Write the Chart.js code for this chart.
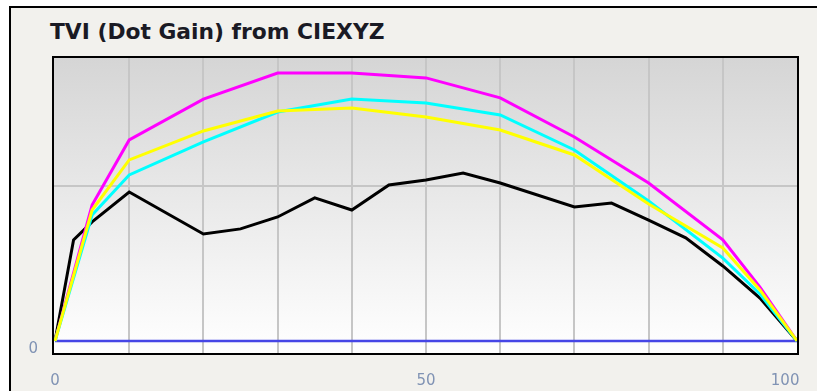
<!DOCTYPE html>
<html lang="en">
<head>
    <meta charset="UTF-8">
    <title>TVI (Dot Gain) from CIEXYZ</title>
    <script src="https://cdn.jsdelivr.net/npm/chart.js"></script>
    <style>
        html, body { margin: 0; padding: 0; background: #ffffff; }
        .frame {
            position: absolute;
            left: 9px; top: 6px;
            width: 808px; height: 385px;
            border-left: 2px solid #000;
            border-top: 2px solid #000;
            background: #f2f1ed;
        }
        .title {
            position: absolute;
            left: 50px; top: 21px;
            font: bold 21.8px/21.5px "DejaVu Sans", sans-serif;
            color: #1a1a24;
            white-space: nowrap;
        }
        #wrap { position: absolute; left: 0; top: 0; width: 817px; height: 391px; }
    </style>
</head>
<body>
    <div class="frame"></div>
    <div class="title">TVI (Dot Gain) from CIEXYZ</div>
    <div id="wrap"><canvas id="tviChart"></canvas></div>
    <script>
    // tone value (%) and dot gain (%)
    const cmyX = [0, 5, 10, 20, 30, 40, 50, 60, 70, 80, 90, 95, 100];
    const magentaTVI = [0, 8.77, 12.97, 15.6, 17.29, 17.29, 16.97, 15.68, 13.16, 10.19, 6.52, 3.48, 0];
    const yellowTVI  = [0, 8.45, 11.68, 13.55, 14.84, 15.03, 14.45, 13.61, 12.0, 8.84, 6.0, 3.29, 0];
    const cyanTVI    = [0, 8.13, 10.71, 12.84, 14.77, 15.61, 15.35, 14.58, 12.32, 9.03, 5.35, 3.03, 0];

    const blackX = [0, 2.5, 5, 10, 20, 25, 30, 35, 40, 45, 50, 55, 60, 70, 75, 80, 85, 90, 95, 100];
    const blackTVI = [0, 6.52, 7.68, 9.61, 6.9, 7.23, 8.0, 9.23, 8.45, 10.06, 10.39, 10.84, 10.19, 8.65, 8.9, 7.8, 6.65, 4.84, 2.77, 0];

    const blueX = [0, 100];
    const blueTVI = [0, 0];

    const xTicks = [0, 10, 20, 30, 40, 50, 60, 70, 80, 90, 100];
    const xLabels = { 0: '0', 50: '50', 100: '100     ' };
    const yTicks = [0, 10];

    function pts(xs, ys) {
        return xs.map((x, i) => ({ x: x, y: ys[i] }));
    }

    const plotFrame = {
        id: 'plotFrame',
        beforeDraw(chart) {
            const { ctx, chartArea: a } = chart;
            const g = ctx.createLinearGradient(0, a.top, 0, a.bottom);
            g.addColorStop(0, '#d5d5d5');
            g.addColorStop(1, '#ffffff');
            ctx.save();
            ctx.fillStyle = g;
            ctx.fillRect(a.left, a.top, a.right - a.left, a.bottom - a.top);
            ctx.restore();
        },
        afterDraw(chart) {
            const { ctx, chartArea: a } = chart;
            ctx.save();
            ctx.strokeStyle = '#000';
            ctx.lineWidth = 2;
            ctx.strokeRect(a.left, a.top, a.right - a.left, a.bottom - a.top);
            ctx.restore();
        }
    };

    const line = (data, color, w) => ({
        data: data,
        borderColor: color,
        borderWidth: w,
        pointRadius: 0,
        tension: 0,
        fill: false
    });

    new Chart(document.getElementById('tviChart'), {
        type: 'line',
        data: {
            datasets: [
                line(pts(cmyX, yellowTVI), '#ffff00', 3),
                line(pts(cmyX, cyanTVI), '#00ffff', 3),
                line(pts(cmyX, magentaTVI), '#ff00ff', 3),
                line(pts(blackX, blackTVI), '#000000', 3),
                line(pts(blueX, blueTVI), '#4646e6', 2.5)
            ]
        },
        options: {
            responsive: true,
            maintainAspectRatio: false,
            animation: false,
            layout: { padding: { left: 0, top: 57, right: 19, bottom: 0 } },
            plugins: { legend: { display: false }, tooltip: { enabled: false } },
            scales: {
                x: {
                    type: 'linear',
                    min: -0.27,
                    max: 100.13,
                    afterBuildTicks: s => { s.ticks = xTicks.map(v => ({ value: v })); },
                    afterFit: s => { s.height = 37; s.paddingRight = 0; s.paddingLeft = 0; },
                    border: { display: false },
                    grid: {
                        drawTicks: false,
                        lineWidth: 2,
                        color: c => (c.tick && (c.tick.value === 0 || c.tick.value === 100)) ? 'rgba(0,0,0,0)' : '#c6c6c6'
                    },
                    ticks: {
                        padding: 18,
                        maxRotation: 0,
                        autoSkip: false,
                        color: '#8093b4',
                        font: { family: 'DejaVu Sans', size: 15 },
                        callback: v => xLabels[v] !== undefined ? xLabels[v] : ''
                    }
                },
                y: {
                    min: -0.84,
                    max: 18.32,
                    afterBuildTicks: s => { s.ticks = yTicks.map(v => ({ value: v })); },
                    afterFit: s => { s.width = 53; s.paddingTop = 0; s.paddingBottom = 0; },
                    border: { display: false },
                    grid: {
                        drawTicks: false,
                        lineWidth: 2,
                        color: c => (c.tick && c.tick.value === 10) ? '#c6c6c6' : 'rgba(0,0,0,0)'
                    },
                    ticks: {
                        padding: 15,
                        labelOffset: 8,
                        color: '#8093b4',
                        font: { family: 'DejaVu Sans', size: 15 },
                        callback: v => v === 0 ? '0' : ''
                    }
                }
            }
        },
        plugins: [plotFrame]
    });
    </script>
</body>
</html>
